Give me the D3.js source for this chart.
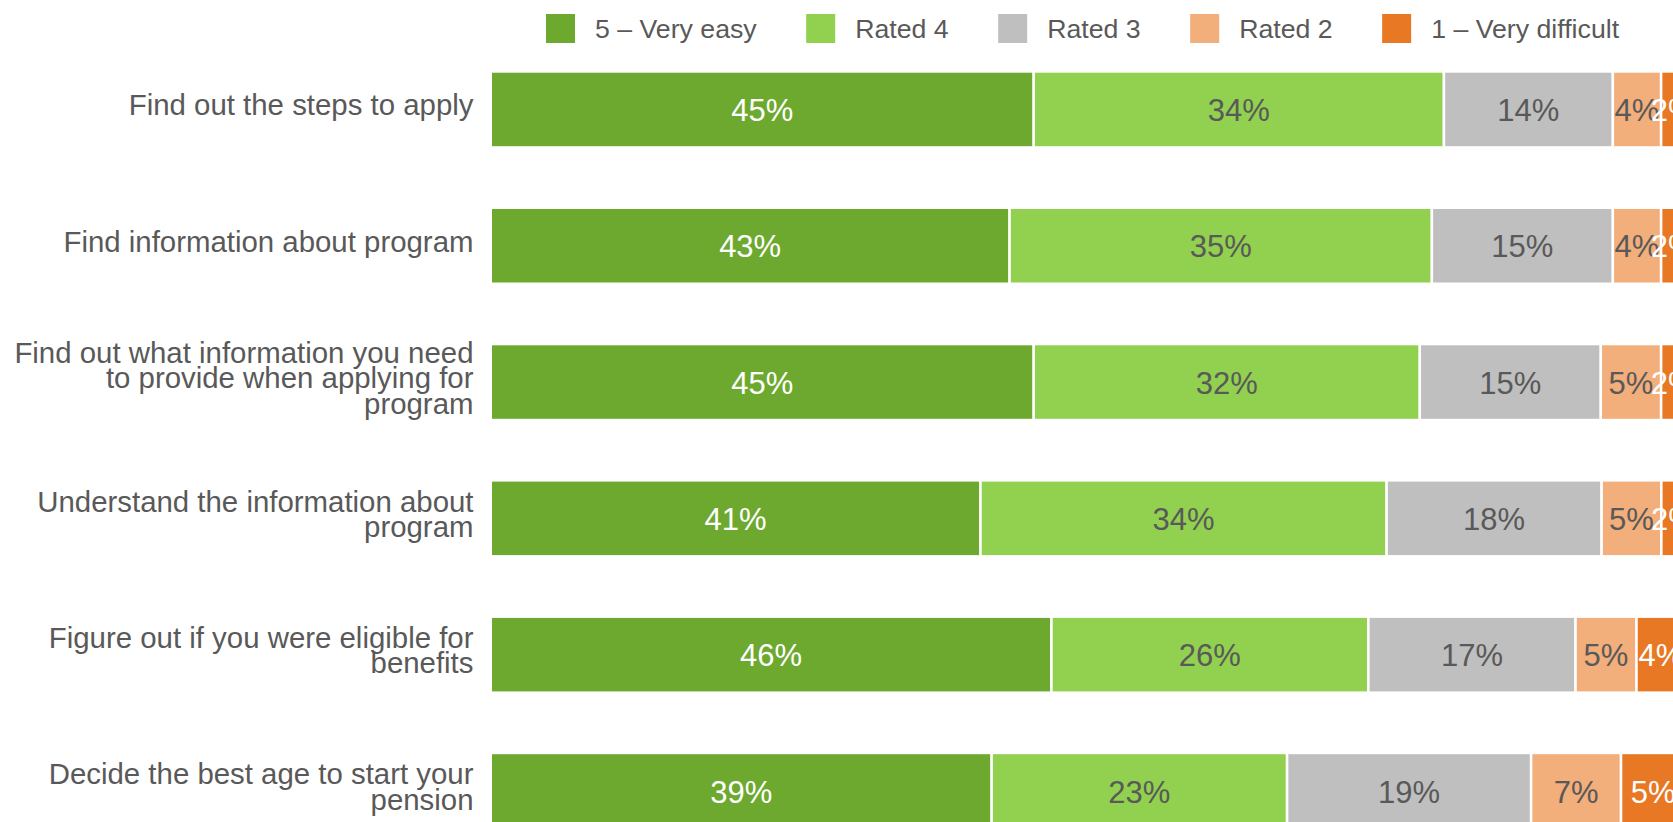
<!DOCTYPE html>
<html>
<head>
<meta charset="utf-8">
<script src="https://cdn.jsdelivr.net/npm/d3@7"></script>
<style>
  html, body { margin: 0; padding: 0; background: #fff; overflow: hidden; }
  svg { display: block; }
</style>
</head>
<body>
<svg id="chart" width="1673" height="822"></svg>
<script>
// chart values
var categories = [
	"Find out the steps to apply",
	"Find information about program",
	"Find out what information you need\nto provide when applying for\nprogram",
	"Understand the information about\nprogram",
	"Figure out if you were eligible for\nbenefits",
	"Decide the best age to start your\npension"
];
var seriesNames = ["5 \u2013 Very easy", "Rated 4", "Rated 3", "Rated 2", "1 \u2013 Very difficult"];
var veryEasy      = [45, 43, 45, 41, 46, 39];
var rated4        = [34, 35, 32, 34, 26, 23];
var rated3        = [14, 15, 15, 18, 17, 19];
var rated2        = [4, 4, 5, 5, 5, 7];
var veryDifficult = [2, 2, 2, 2, 4, 5];

var COLORS = ["#6DA92F", "#92D050", "#BFBFBF", "#F2AE7B", "#E87823"];
var LABEL_COLORS = ["#ffffff", "#595959", "#595959", "#595959", "#ffffff"];
var FONT = "'Liberation Sans', Arial, sans-serif";
var TEXT_COLOR = "#595959";

var svg = d3.select("#chart");

var series = [veryEasy, rated4, rated3, rated2, veryDifficult];

// every row is stacked to 100% of its own total
var rows = categories.map(function(cat, i) {
	var row = { category: cat };
	var total = 0;
	series.forEach(function(s) { total += s[i]; });
	seriesNames.forEach(function(name, j) {
		row[name] = series[j][i] / total;
		row["raw_" + name] = series[j][i];
	});
	return row;
});

var stacked = d3.stack().keys(seriesNames)(rows);

var x = d3.scaleLinear().domain([0, 1]).range([490.75, 1685.25]);
var y = d3.scaleBand()
	.domain(categories)
	.range([41.3, 859.1])
	.paddingInner(0.4424)
	.paddingOuter(0.2212);

// bars
var layers = svg.append("g").selectAll("g.layer")
	.data(stacked)
	.enter().append("g")
	.attr("class", "layer")
	.attr("fill", function(d, i) { return COLORS[i]; });

layers.selectAll("rect")
	.data(function(d) { return d; })
	.enter().append("rect")
	.attr("x", function(d) { return x(d[0]); })
	.attr("y", function(d) { return y(d.data.category); })
	.attr("width", function(d) { return x(d[1]) - x(d[0]); })
	.attr("height", y.bandwidth())
	.attr("stroke", "#fff")
	.attr("stroke-width", 2.5);

// data labels
var LABEL_SIZE = 31;
stacked.forEach(function(layer, j) {
	svg.append("g").selectAll("text")
		.data(layer)
		.enter().append("text")
		.attr("x", function(d) { return (x(d[0]) + x(d[1])) / 2; })
		.attr("y", function(d) { return y(d.data.category) + y.bandwidth() / 2 + LABEL_SIZE * 0.358 + 0.5; })
		.attr("text-anchor", "middle")
		.attr("font-family", FONT)
		.attr("font-size", LABEL_SIZE)
		.attr("fill", LABEL_COLORS[j])
		.text(function(d) { return d.data["raw_" + layer.key] + "%"; });
});

// category labels, right aligned against the bars
var CAT_SIZE = 29.4;
var LINE_H = 25.5;
var catLabels = svg.append("g").selectAll("text")
	.data(categories)
	.enter().append("text")
	.attr("text-anchor", "end")
	.attr("font-family", FONT)
	.attr("font-size", CAT_SIZE)
	.attr("fill", TEXT_COLOR);

catLabels.each(function(cat) {
	var lines = cat.split("\n");
	var cy = y(cat) + y.bandwidth() / 2 - 4.5 + CAT_SIZE * 0.358;
	var el = d3.select(this);
	lines.forEach(function(line, k) {
		el.append("tspan")
			.attr("x", 473.5)
			.attr("y", cy + (k - (lines.length - 1) / 2) * LINE_H)
			.text(line);
	});
});

// legend
var LEG_SIZE = 26.7;
var legend = svg.append("g");
var lx = 546;
seriesNames.forEach(function(name, i) {
	legend.append("rect")
		.attr("x", lx)
		.attr("y", 14)
		.attr("width", 29)
		.attr("height", 29)
		.attr("fill", COLORS[i]);
	var t = legend.append("text")
		.attr("x", lx + 49)
		.attr("y", 28.5 + LEG_SIZE * 0.358)
		.attr("font-family", FONT)
		.attr("font-size", LEG_SIZE)
		.attr("fill", TEXT_COLOR)
		.text(name);
	lx = lx + 49 + t.node().getComputedTextLength() + 49.5;
});
</script>
</body>
</html>
